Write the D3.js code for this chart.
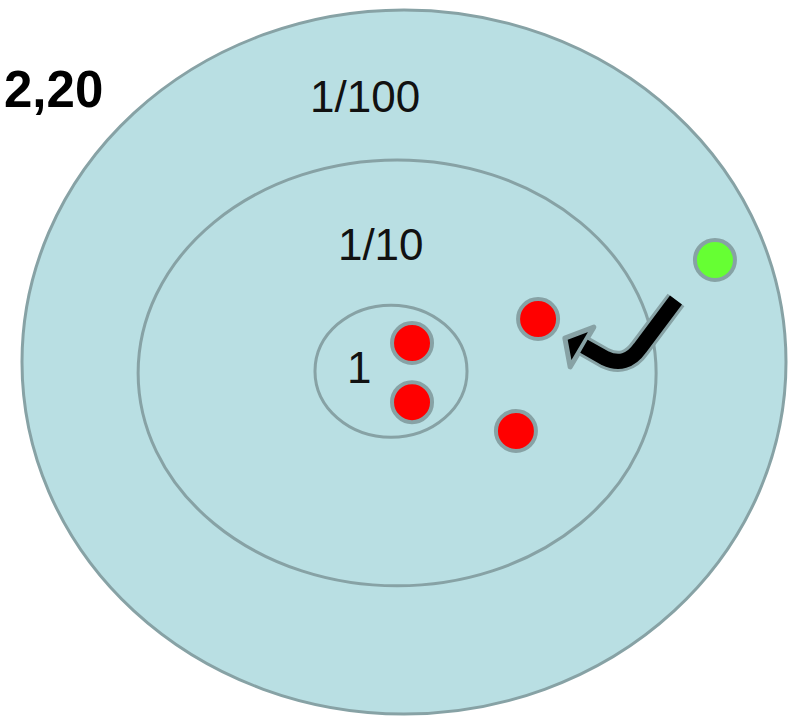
<!DOCTYPE html>
<html>
<head>
<meta charset="utf-8">
<script src="https://cdn.jsdelivr.net/npm/d3@7"></script>
<style>
  html, body { margin: 0; padding: 0; background: #fff; }
  svg { display: block; }
</style>
</head>
<body>
<div id="chart"></div>
<script>
// rings, in units of the outer ring (centre 0,0, radius 1)
const ringLabels = ['1/100', '1/10', '1'];
const ringCx = [0, -0.018, -0.034];
const ringCy = [0, 0.031, 0.026];
const ringRx = [1, 0.678, 0.199];
const ringRy = [1, 0.605, 0.1875];
const labelX = [-0.246, -0.173, -0.149];
const labelY = [-0.71, -0.29, 0.06];

// dots
const dotX = [0.021, 0.021, 0.351, 0.293, 0.814];
const dotY = [-0.054, 0.114, -0.122, 0.196, -0.290];
const dotKind = ['in', 'in', 'in', 'in', 'new'];

// the bent arrow from the new dot towards the ring
// start, end of straight part, curve control, end of curve, end of shaft
const arrowX = [0.712, 0.618, 0.581, 0.526, 0.471];
const arrowY = [-0.176, -0.040, 0.017, -0.011, -0.045];
// tip, upper barb, lower barb
const headX = [0.421, 0.497, 0.435];
const headY = [-0.068, -0.099, 0.014];

const title = '2,20';

const width = 789;
const height = 717;

const x = d3.scaleLinear().domain([-1, 1]).range([22, 786]);
const y = d3.scaleLinear().domain([-1, 1]).range([10, 714]);
const sx = d3.scaleLinear().domain([0, 1]).range([0, 382]);
const sy = d3.scaleLinear().domain([0, 1]).range([0, 352]);
const dotColor = d3.scaleOrdinal().domain(['in', 'new']).range(['#ff0000', '#66ff33']);

const fill = '#b9dfe3';
const line = '#87a2a5';

const svg = d3.select('#chart')
  .append('svg')
  .attr('width', width)
  .attr('height', height);

const rings = ringLabels.map((l, i) => ({
  label: l, cx: ringCx[i], cy: ringCy[i], rx: ringRx[i], ry: ringRy[i],
  lx: labelX[i], ly: labelY[i]
}));

svg.append('g')
  .selectAll('ellipse')
  .data(rings)
  .enter()
  .append('ellipse')
  .attr('cx', d => x(d.cx))
  .attr('cy', d => y(d.cy))
  .attr('rx', d => sx(d.rx))
  .attr('ry', d => sy(d.ry))
  .attr('fill', fill)
  .attr('stroke', line)
  .attr('stroke-width', 3);

svg.append('g')
  .selectAll('text')
  .data(rings)
  .enter()
  .append('text')
  .attr('x', d => x(d.lx))
  .attr('y', d => y(d.ly))
  .attr('font-family', 'Liberation Sans, Arial, sans-serif')
  .attr('font-size', 44)
  .attr('fill', '#111')
  .text(d => d.label);

svg.append('text')
  .attr('x', 4)
  .attr('y', 107)
  .attr('font-family', 'Liberation Sans, Arial, sans-serif')
  .attr('font-weight', 'bold')
  .attr('font-size', 51)
  .attr('fill', '#000')
  .text(title);

const dots = dotX.map((v, i) => ({ x: v, y: dotY[i], kind: dotKind[i] }));

svg.append('g')
  .selectAll('circle')
  .data(dots)
  .enter()
  .append('circle')
  .attr('cx', d => x(d.x))
  .attr('cy', d => y(d.y))
  .attr('r', 20)
  .attr('fill', d => dotColor(d.kind))
  .attr('stroke', line)
  .attr('stroke-width', 4);

/* arrow: shaft drawn twice, grey underneath for the outline */
const p = d3.path();
p.moveTo(x(arrowX[0]), y(arrowY[0]));
p.lineTo(x(arrowX[1]), y(arrowY[1]));
p.quadraticCurveTo(x(arrowX[2]), y(arrowY[2]), x(arrowX[3]), y(arrowY[3]));
p.lineTo(x(arrowX[4]), y(arrowY[4]));

const head = headX.map((v, i) => [x(v), y(headY[i])]);

const arrow = svg.append('g');
arrow.append('path')
  .attr('d', p.toString())
  .attr('fill', 'none')
  .attr('stroke', line)
  .attr('stroke-width', 21)
  .attr('stroke-linejoin', 'round');
arrow.append('polygon')
  .attr('points', head.map(d => d.join(',')).join(' '))
  .attr('fill', '#000')
  .attr('stroke', line)
  .attr('stroke-width', 5)
  .attr('stroke-linejoin', 'round');
arrow.append('path')
  .attr('d', p.toString())
  .attr('fill', 'none')
  .attr('stroke', '#000')
  .attr('stroke-width', 15)
  .attr('stroke-linejoin', 'round');
</script>
</body>
</html>
